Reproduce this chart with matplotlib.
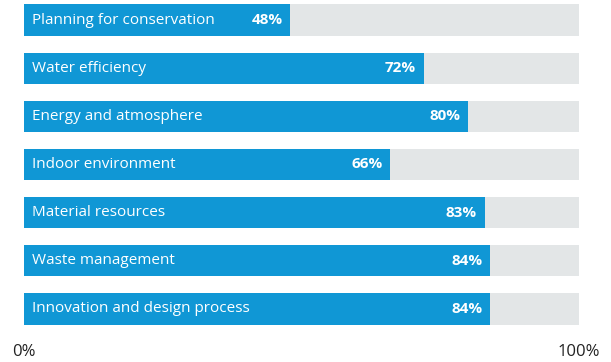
import matplotlib
matplotlib.use("Agg")
import matplotlib.pyplot as plt

categories = [
    "Planning for conservation",
    "Water efficiency",
    "Energy and atmosphere",
    "Indoor environment",
    "Material resources",
    "Waste management",
    "Innovation and design process",
]
values = [48, 72, 80, 66, 83, 84, 84]
tick_labels = ["0%", "100%"]

BLUE = "#1097d5"
GRAY = "#e3e6e7"
FONT = ["Open Sans", "DejaVu Sans"]

W, H = 611, 362
fig = plt.figure(figsize=(W / 100, H / 100), dpi=100)
ax = fig.add_axes([24 / W, 1 - 325 / H, 555 / W, 321 / H])

y = list(range(len(categories)))
bh = 0.66
ax.barh(y, [100] * len(y), height=bh, color=GRAY, left=0)
ax.barh(y, values, height=bh, color=BLUE, left=0)

for yi, cat, v in zip(y, categories, values):
    ax.text(1.5, yi, cat, color="white", fontsize=11, family=FONT,
            va="center", ha="left")
    ax.text(v - 1.4, yi, f"{v}%", color="white", fontsize=11,
            fontweight="bold", family=FONT, va="center", ha="right")

ax.set_xlim(0, 100)
ax.set_ylim(len(y) - 1 + bh / 2 + 0.01, -bh / 2 - 0.01)
ax.set_yticks([])
ax.set_xticks([0, 100])
ax.set_xticklabels(tick_labels, fontsize=12, family=FONT, color="#222222")
ax.tick_params(axis="x", length=0, pad=14)
for s in ax.spines.values():
    s.set_visible(False)

fig.savefig("out.png", dpi=100)
